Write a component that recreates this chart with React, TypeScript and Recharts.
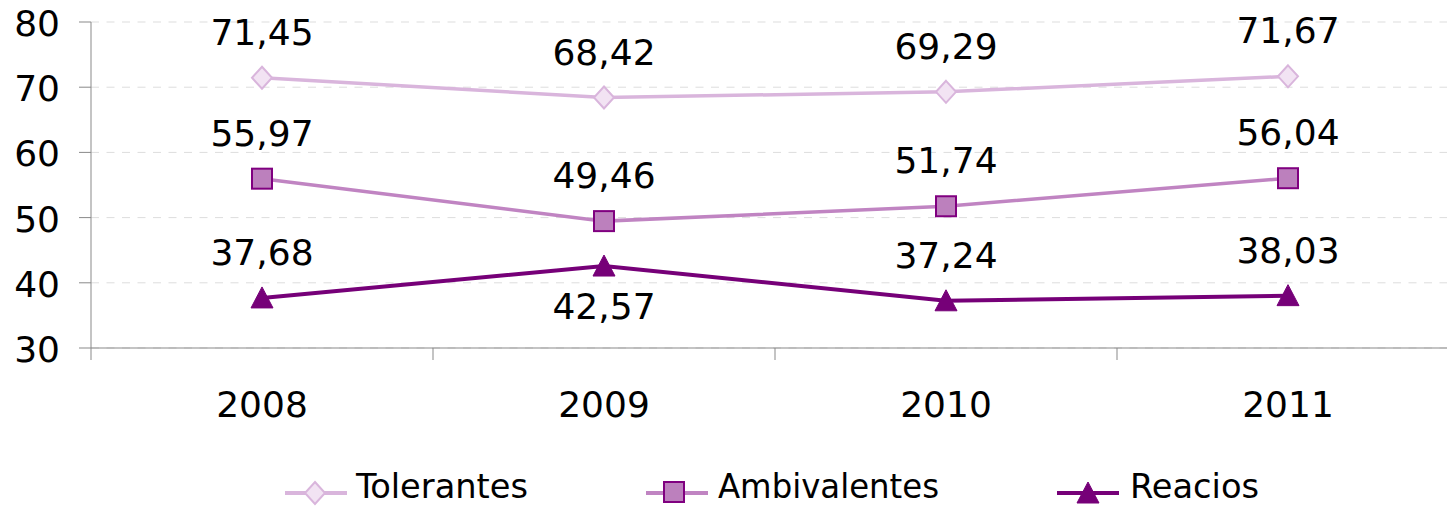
import { LineChart, Line, XAxis, YAxis, CartesianGrid, Legend, LabelList } from "recharts";

const years = ["2008", "2009", "2010", "2011"];
const tolerantes = [71.45, 68.42, 69.29, 71.67];
const ambivalentes = [55.97, 49.46, 51.74, 56.04];
const reacios = [37.68, 42.57, 37.24, 38.03];
const yTicks = [30, 40, 50, 60, 70, 80];
// label of this point goes under the marker
const reaciosBelow = [false, true, false, false];

const FONT = "'DejaVu Sans', sans-serif";
const LEGEND_FONT = "'DejaVu Sans Condensed', 'DejaVu Sans', sans-serif";
const AXIS = "#898989";
const C_TOL = "#D9B5DC";
const C_TOL_FILL = "#F2E3F3";
const C_AMB = "#C084C2";
const C_AMB_FILL = "#BC80BD";
const C_AMB_EDGE = "#800080";
const C_REA = "#760078";

const data = years.map((y, i) => ({
  year: y,
  tolerantes: tolerantes[i],
  ambivalentes: ambivalentes[i],
  reacios: reacios[i],
}));

const fmt = (v: number) => v.toFixed(2).replace(".", ",");

function Diamond({ cx, cy }: any) {
  if (cx == null || cy == null) return null;
  return (
    <path
      d={`M${cx},${cy - 11} L${cx + 10},${cy} L${cx},${cy + 11} L${cx - 10},${cy} Z`}
      fill={C_TOL_FILL}
      stroke={C_TOL}
      strokeWidth={2}
    />
  );
}

function Square({ cx, cy }: any) {
  if (cx == null || cy == null) return null;
  return <rect x={cx - 10} y={cy - 10} width={20} height={20} fill={C_AMB_FILL} stroke={C_AMB_EDGE} strokeWidth={2} />;
}

function Triangle({ cx, cy }: any) {
  if (cx == null || cy == null) return null;
  return <path d={`M${cx},${cy - 11} L${cx + 11},${cy + 10} L${cx - 11},${cy + 10} Z`} fill={C_REA} stroke={C_REA} strokeWidth={1} />;
}

function makeLabel(below?: boolean[]) {
  return (props: any) => {
    const { x, y, value, index } = props;
    const under = below ? below[index] : false;
    return (
      <text x={x} y={under ? y + 53 : y - 33} textAnchor="middle" fontSize={36} fontFamily={FONT} fill="#000">
        {fmt(value)}
      </text>
    );
  };
}

function YTick({ x, y, payload }: any) {
  return (
    <text x={x} y={y + 14} textAnchor="end" fontSize={36} fontFamily={FONT} fill="#000">
      {payload.value}
    </text>
  );
}

// category label plus the tick marks that sit between categories (Excel style)
function XTick({ x, y, payload, index }: any) {
  const half = payload.offset || 0;
  const last = index === years.length - 1;
  return (
    <g>
      <line x1={x - half} x2={x - half} y1={y} y2={y + 12} stroke={AXIS} />
      {last && <line x1={x + half} x2={x + half} y1={y} y2={y + 12} stroke={AXIS} />}
      <text x={x} y={y + 69} textAnchor="middle" fontSize={36} fontFamily={FONT} fill="#000">
        {payload.value}
      </text>
    </g>
  );
}

const legendItems = [
  { name: "Tolerantes", marker: "diamond", color: C_TOL, textW: 172, gap: 9 },
  { name: "Ambivalentes", marker: "square", color: C_AMB, textW: 221, gap: 10 },
  { name: "Reacios", marker: "triangle", color: C_REA, textW: 129, gap: 11 },
];

function LegendBox() {
  return (
    <div style={{ display: "flex", paddingLeft: 285, height: 40, gap: 118 }}>
      {legendItems.map((it) => (
        <svg key={it.name} width={62 + it.gap + it.textW} height={40} style={{ display: "block", overflow: "visible" }}>
          <line x1={0} x2={62} y1={27} y2={27} stroke={it.color} strokeWidth={4} />
          {it.marker === "diamond" && <Diamond cx={30} cy={27} />}
          {it.marker === "square" && <Square cx={28} cy={26} />}
          {it.marker === "triangle" && <Triangle cx={31} cy={27} />}
          <text
            x={62 + it.gap}
            y={32}
            fontSize={33}
            fontFamily={LEGEND_FONT}
            fill="#000"
            textLength={it.textW}
            lengthAdjust="spacingAndGlyphs"
          >
            {it.name}
          </text>
        </svg>
      ))}
    </div>
  );
}

export default function App() {
  return (
    <div style={{ position: "absolute", left: 0, top: 0, width: 1447, height: 506, overflow: "hidden", background: "#fff" }}>
      <LineChart width={1459} height={506} data={data} margin={{ top: 22, right: 0, left: 0, bottom: 0 }}>
        <CartesianGrid vertical={false} stroke="#DDDDDD" strokeDasharray="8 7.5" />
        <XAxis
          dataKey="year"
          scale="band"
          height={118}
          stroke={AXIS}
          tickLine={false}
          tickSize={0}
          tickMargin={0}
          tick={<XTick />}
          interval={0}
        />
        <YAxis
          domain={[30, 80]}
          ticks={yTicks}
          width={91}
          stroke={AXIS}
          tickSize={12}
          tickMargin={19}
          tick={<YTick />}
          interval={0}
        />
        <Legend verticalAlign="bottom" wrapperStyle={{ left: 0, width: 1447 }} content={() => <LegendBox />} />
        <Line dataKey="tolerantes" stroke={C_TOL} strokeWidth={3.5} dot={<Diamond />} activeDot={false} isAnimationActive={false}>
          <LabelList dataKey="tolerantes" content={makeLabel()} />
        </Line>
        <Line dataKey="ambivalentes" stroke={C_AMB} strokeWidth={3.5} dot={<Square />} activeDot={false} isAnimationActive={false}>
          <LabelList dataKey="ambivalentes" content={makeLabel()} />
        </Line>
        <Line dataKey="reacios" stroke={C_REA} strokeWidth={4} dot={<Triangle />} activeDot={false} isAnimationActive={false}>
          <LabelList dataKey="reacios" content={makeLabel(reaciosBelow)} />
        </Line>
      </LineChart>
    </div>
  );
}
